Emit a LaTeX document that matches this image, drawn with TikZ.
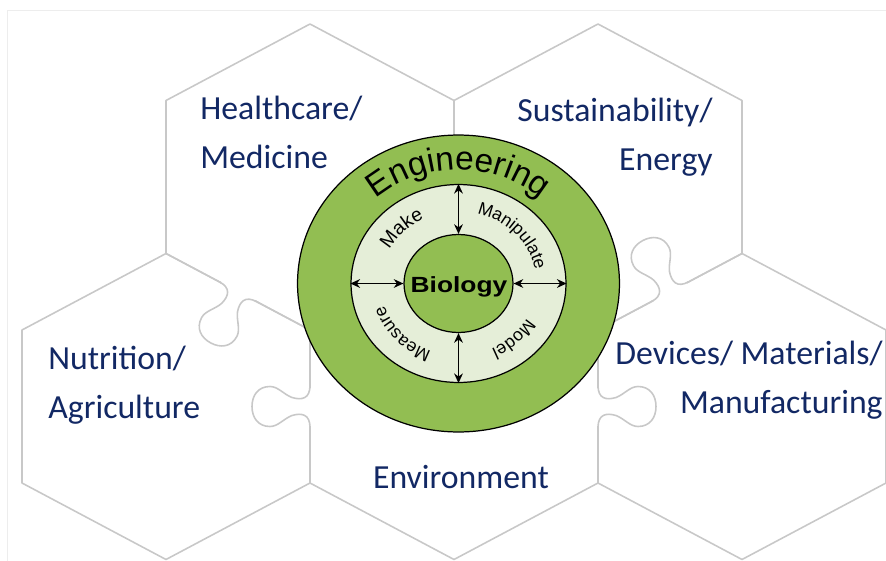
\documentclass[tikz,border=0pt]{standalone}
\usepackage{fontspec}
\usetikzlibrary{arrows.meta, shapes.geometric, decorations.text}
\newfontfamily\calfont{Carlito}
\newfontfamily\arialfont{Liberation Sans}
\definecolor{engreen}{RGB}{146,190,82}
\definecolor{ringgreen}{RGB}{229,238,216}
\definecolor{hexgray}{RGB}{200,200,200}
\definecolor{navy}{RGB}{18,40,100}

\tikzset{
  hexline/.style={hexgray, line width=0.9pt, line join=round},
  hexlabel/.style={navy, inner sep=0, font=\calfont\fontsize{19.2}{27.5}\selectfont},
  disc/.style={ellipse, draw=black, line width=0.7pt, inner sep=0},
  ringtext/.style={decorate, decoration={text along path, text align=center}},
  knob/.pic={
    \draw[white, line width=3pt] (-19,0) -- (19,0);
    \draw[hexline] (-21,0) .. controls (-8,0) and (-6,8) .. (-9,18)
      .. controls (-12,26) and (-20,32) .. (-20,40)
      .. controls (-20,52) and (-11,58) .. (0,58)
      .. controls (11,58) and (20,52) .. (20,40)
      .. controls (20,32) and (12,26) .. (9,18)
      .. controls (6,8) and (8,0) .. (21,0);
  }
}

\begin{document}
\begin{tikzpicture}[x=0.02cm, y=-0.02cm, >={Stealth[length=5.5pt, width=5pt]}]

\useasboundingbox (0,0) rectangle (886,561);
\draw[black!7] (7,561) -- (7,10) -- (886,10);

% hexagons
\foreach \cx/\cy in {310/177, 598/177, 166/406.5, 454/406.5, 742/406.5}
  \draw[hexline] (\cx,\cy) +(0,-153) -- +(144,-76.5) -- +(144,76.5) -- +(0,153)
    -- +(-144,76.5) -- +(-144,-76.5) -- cycle;

% puzzle knobs
\pic[rotate=-28] at (238,291.75) {knob};
\pic[rotate=208] at (670,291.75) {knob};
\pic[rotate=-90] at (310,406.5) {knob};
\pic[rotate=90] at (598,406.5) {knob};

\node[hexlabel, align=left, anchor=base west] (health) at (200,168) {Healthcare/\\Medicine};
\node[hexlabel, align=right, anchor=base east] (sustain) at (713,170) {Sustainability/\\Energy};
\node[hexlabel, align=left, anchor=base west] (nutri) at (48,418) {Nutrition/\\Agriculture};
\node[hexlabel, align=right, anchor=base east] (devices) at (883,413) {Devices/ Materials/\\Manufacturing};
\node[hexlabel, anchor=base] (environ) at (461,488) {Environment};

% circles
\node[disc, fill=engreen, minimum width=6.44cm, minimum height=5.94cm] (outer) at (458.5,283.5) {};
\node[disc, fill=ringgreen, minimum width=4.3cm, minimum height=3.96cm] (ring) at (outer) {};
\node[disc, fill=engreen, minimum width=2.18cm, minimum height=1.96cm] (bio) at (outer) {};
\node[font=\arialfont\bfseries\fontsize{12.5}{15}\selectfont, xscale=1.2, anchor=base] (biotext) at (459,292) {Biology};

\draw[<->, line width=0.7pt] (ring.north) -- (bio.north);
\draw[<->, line width=0.7pt] (ring.south) -- (bio.south);
\draw[<->, line width=0.7pt] (ring.west) -- (bio.west);
\draw[<->, line width=0.7pt] (ring.east) -- (bio.east);

% curved words
\path[ringtext, decoration={text={|\arialfont\fontsize{19}{19}\selectfont|Engineering}}]
  (outer.center) ++(165:2.47cm and 2.28cm) arc[start angle=165, end angle=15, x radius=2.47cm, y radius=2.28cm];
\path[ringtext, decoration={text={|\arialfont\fontsize{11}{11}\selectfont|Make}}]
  (outer.center) ++(180:1.56cm and 1.44cm) arc[start angle=180, end angle=90, x radius=1.56cm, y radius=1.44cm];
\path[ringtext, decoration={text={|\arialfont\fontsize{10}{10}\selectfont|Manipulate}}]
  (outer.center) ++(88:1.56cm and 1.44cm) arc[start angle=88, end angle=-2, x radius=1.56cm, y radius=1.44cm];
\path[ringtext, decoration={text={|\arialfont\fontsize{10}{10}\selectfont|Measure}}]
  (outer.center) ++(268:1.56cm and 1.44cm) arc[start angle=268, end angle=178, x radius=1.56cm, y radius=1.44cm];
\path[ringtext, decoration={text={|\arialfont\fontsize{10}{10}\selectfont|Model}}]
  (outer.center) ++(359:1.56cm and 1.44cm) arc[start angle=359, end angle=269, x radius=1.56cm, y radius=1.44cm];

\end{tikzpicture}
\end{document}
